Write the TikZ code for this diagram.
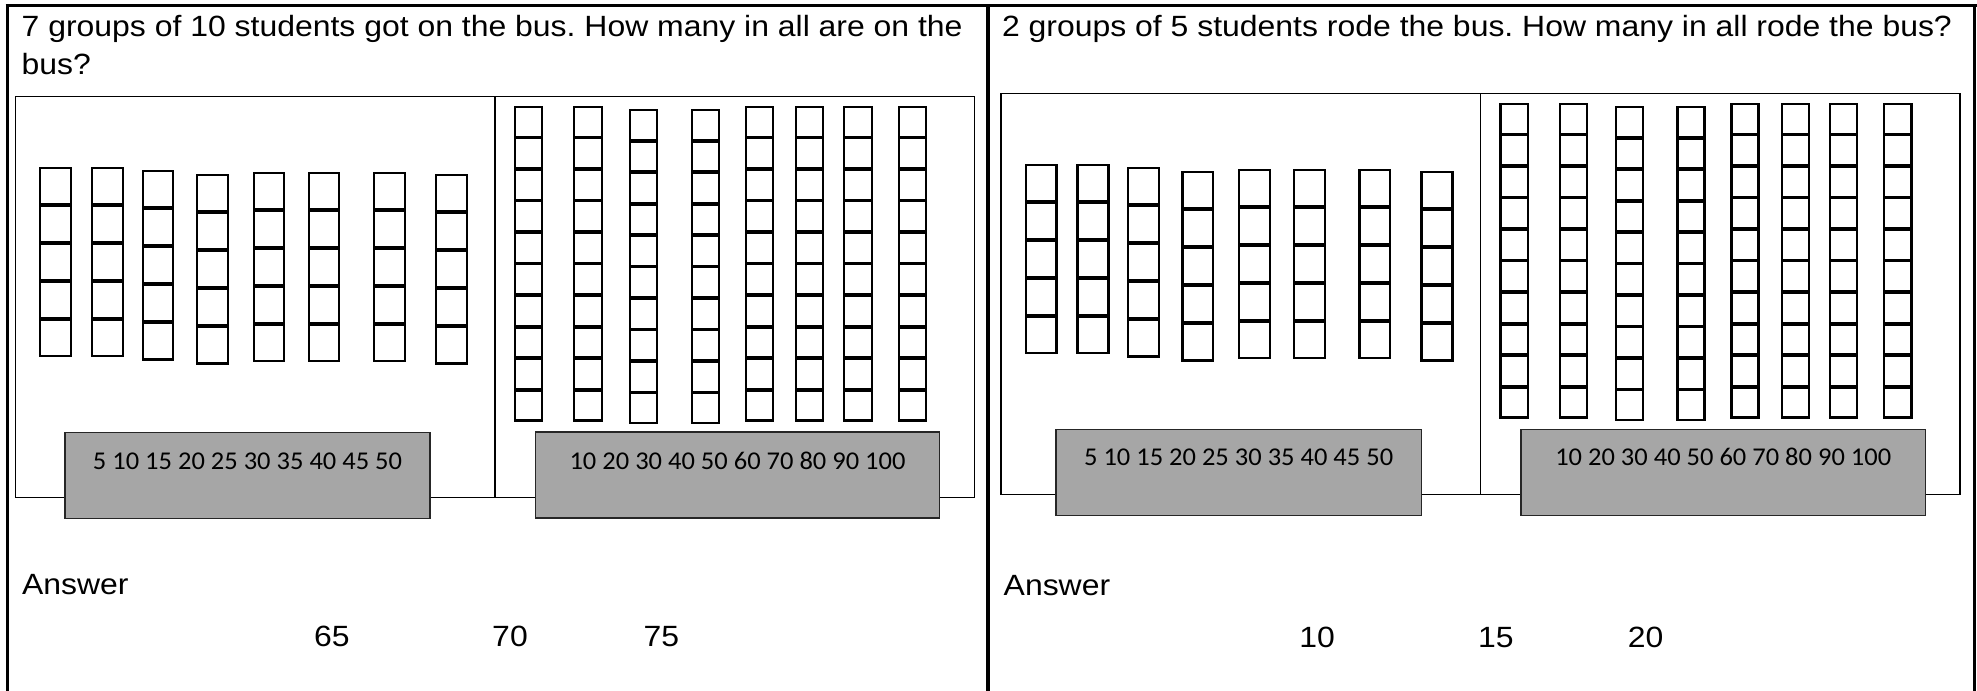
\documentclass[tikz,border=0pt]{standalone}
\usepackage{fontspec}
\setmainfont{Liberation Sans}
\newfontfamily\arialx[FakeStretch=1.09]{Liberation Sans}
\newfontfamily\calx[FakeStretch=1.035]{Carlito}
\definecolor{boxgray}{HTML}{A6A6A6}
\frenchspacing
\newcommand\stcol[5]{%
  \pgfmathsetmacro\pp{(#4-#3)/#5}%
  \foreach \i in {1,...,#5}{%
    \draw[sq] ({#1+1},{#3+1+(\i-1)*\pp}) rectangle ({#2-1},{#3+\i*\pp-0.5});
  }%
}
\newcommand\panelcontent{%
  \draw[innerbox] (15.7,96.7) rectangle (974.3,497.3);
  \draw[innerbox] (495,96.7) -- (495,497.3);
  \stcol{39.3}{72}{166.7}{356.7}{5}
  \stcol{91}{124}{166.7}{356.7}{5}
  \stcol{141.7}{174.3}{170}{360}{5}
  \stcol{196}{228.7}{173.7}{364}{5}
  \stcol{252.7}{285.3}{171.7}{361.7}{5}
  \stcol{307.7}{340.3}{171.7}{361.7}{5}
  \stcol{373}{405.7}{171.7}{361.7}{5}
  \stcol{435}{468}{173.7}{364}{5}
  \stcol{514}{543.3}{105.7}{421}{10}
  \stcol{573.3}{602.7}{105.7}{421}{10}
  \stcol{629.3}{658.3}{109}{423.7}{10}
  \stcol{691}{720}{109}{423.7}{10}
  \stcol{745}{774}{105.7}{421}{10}
  \stcol{795.3}{824.3}{105.7}{421}{10}
  \stcol{843.3}{872.7}{105.7}{421}{10}
  \stcol{897.7}{927}{105.7}{421}{10}
}
\begin{document}
\begin{tikzpicture}[x=0.5pt,y=-0.5pt,
  frameline/.style={line width=1.75pt},
  innerbox/.style={line width=0.75pt},
  sq/.style={line width=1.1pt},
  graybox/.style={fill=boxgray,draw=black!85,line width=0.75pt},
  title/.style={anchor=base west,inner sep=0pt,font=\arialx\fontsize{14.65}{18}\selectfont},
  num/.style={anchor=base,inner sep=0pt,font=\arialx\fontsize{14.65}{18}\selectfont},
  scaletext/.style={anchor=base,inner sep=0pt,font=\calx\fontsize{12.8}{15}\selectfont}]
\useasboundingbox (0,0) rectangle (1977,691);
% outer frame
\draw[frameline] (5.5,5.5) -- (1977,5.5);
\draw[frameline] (7.3,4) -- (7.3,691);
\draw[frameline] (988,4) -- (988,691);
\draw[frameline] (1974.7,4) -- (1974.7,691);
% panels
\panelcontent
\begin{scope}[shift={(985.5,-3)}]
\panelcontent
\end{scope}
% gray number strips
\draw[graybox] (65,432.3) rectangle (430,518.3);
\draw[graybox] (535.3,432) rectangle (939.7,518);
\draw[graybox] (1056,429.3) rectangle (1421.3,515.7);
\draw[graybox] (1521,429.3) rectangle (1925.5,515.7);
\node[scaletext] (sL1) at (247.5,469) {5 10 15 20 25 30 35 40 45 50};
\node[scaletext] (sL2) at (737.5,469) {10 20 30 40 50 60 70 80 90 100};
\node[scaletext] (sR1) at (1238.6,465.8) {5 10 15 20 25 30 35 40 45 50};
\node[scaletext] (sR2) at (1723.2,465.8) {10 20 30 40 50 60 70 80 90 100};
% titles
\node[title] (qL1) at (21.3,36.8) {7 groups of 10 students got on the bus. How many in all are on the};
\node[title] (qL2) at (21.3,74) {bus?};
\node[title] (qR) at (1001.7,36.8) {2 groups of 5 students rode the bus. How many in all rode the bus?};
% answers
\node[title] (aL) at (21.7,594) {Answer};
\node[title] (aR) at (1003.3,595.5) {Answer};
\node[num] (nL1) at (332,646.7) {65};
\node[num] (nL2) at (510,646.7) {70};
\node[num] (nL3) at (661.4,646.7) {75};
\node[num] (nR1) at (1317,647) {10};
\node[num] (nR2) at (1495.8,647) {15};
\node[num] (nR3) at (1645.5,647) {20};
\end{tikzpicture}
\end{document}
